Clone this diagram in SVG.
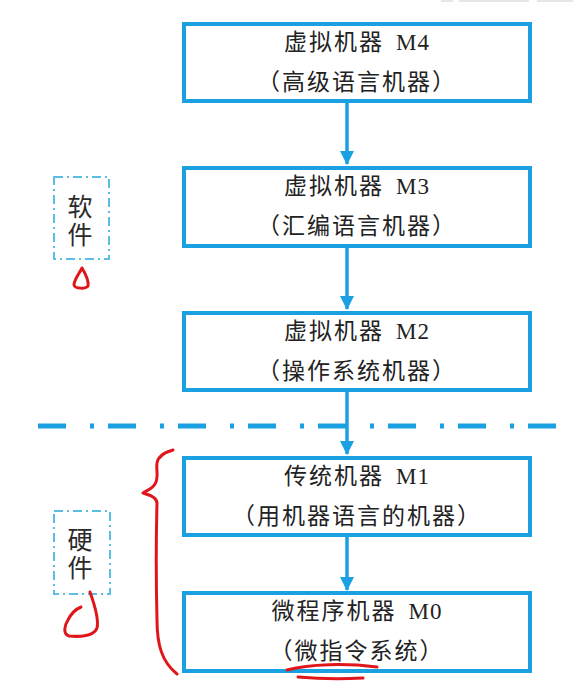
<svg xmlns="http://www.w3.org/2000/svg" width="573" height="691" viewBox="0 0 573 691">
<style>
.box{fill:#fff;stroke:#1ba1e2;stroke-width:4}
.t{font-family:"Noto Sans CJK SC","Noto Sans CJK JP",sans-serif;font-size:23px;fill:#222;text-anchor:middle;letter-spacing:2px}
.lat{font-family:"Liberation Serif",serif;letter-spacing:1px}
.side{font-family:"Noto Sans CJK SC",sans-serif;font-size:25px;fill:#2a2a2a;text-anchor:middle;writing-mode:tb;letter-spacing:3px}
.sbox{fill:none;stroke:#5bbde6;stroke-width:2;stroke-dasharray:9 4 2 4}
.conn{stroke:#1ba1e2;stroke-width:3.5;fill:none}
.red{stroke:#e0161b;stroke-width:3;fill:none;stroke-linecap:round;stroke-linejoin:round}
</style>
<defs>
<marker id="ah" markerUnits="userSpaceOnUse" markerWidth="14" markerHeight="14" viewBox="0 0 14 14" refX="13" refY="7" orient="auto">
<path d="M0,0 L14,7 L0,14 Z" fill="#1ba1e2"/>
</marker>
</defs>
<rect width="573" height="691" fill="#fff"/>
<g id="topbar" fill="#e6e6e6">
<rect x="441" y="0" width="12" height="2"/>
<rect x="459" y="0" width="70" height="2"/>
<rect x="537" y="0" width="36" height="2"/>
</g>
<g id="divider">
<line x1="38" y1="426" x2="573" y2="426" stroke="#1ba1e2" stroke-width="5" stroke-dasharray="28 24 4 14"/>
</g>
<g id="connectors">
<line class="conn" x1="347" y1="102" x2="347" y2="164" marker-end="url(#ah)"/>
<line class="conn" x1="347" y1="248" x2="347" y2="309" marker-end="url(#ah)"/>
<line class="conn" x1="347" y1="392" x2="347" y2="454" marker-end="url(#ah)"/>
<line class="conn" x1="347" y1="537" x2="347" y2="590" marker-end="url(#ah)"/>
</g>
<g id="m4">
<rect class="box" x="184" y="24" width="346" height="77"/>
<text class="t" x="357" y="50">虚拟机器<tspan class="lat" dx="12">M4</tspan></text>
<text class="t" x="357" y="90">（高级语言机器）</text>
</g>
<g id="m3">
<rect class="box" x="184" y="168" width="346" height="78"/>
<text class="t" x="357" y="194">虚拟机器<tspan class="lat" dx="12">M3</tspan></text>
<text class="t" x="357" y="234">（汇编语言机器）</text>
</g>
<g id="m2">
<rect class="box" x="184" y="313" width="346" height="77"/>
<text class="t" x="357" y="339">虚拟机器<tspan class="lat" dx="12">M2</tspan></text>
<text class="t" x="357" y="379">（操作系统机器）</text>
</g>
<g id="m1">
<rect class="box" x="184" y="458" width="346" height="77"/>
<text class="t" x="357" y="484">传统机器<tspan class="lat" dx="12">M1</tspan></text>
<text class="t" x="357" y="524">（用机器语言的机器）</text>
</g>
<g id="m0">
<rect class="box" x="184" y="593" width="346" height="78"/>
<text class="t" x="357" y="619">微程序机器<tspan class="lat" dx="12">M0</tspan></text>
<text class="t" x="357" y="659">（微指令系统）</text>
</g>
<g id="software">
<rect class="sbox" x="54" y="177" width="55" height="82"/>
<text class="side" x="80" y="222">软件</text>
</g>
<g id="hardware">
<rect class="sbox" x="54" y="511" width="56" height="83"/>
<text class="side" x="80" y="555">硬件</text>
</g>
<g id="annotations">
<path class="red" d="M82,268 C79,274 74,280 74,285 C75,289 86,289 88,286 C89,281 85,273 82,268"/>
<path class="red" d="M90,592 C95,606 99,620 97,628 C94,636 80,637 69,636 C63,634 64,626 68,620 C71,614 76,609 81,607"/>
<path class="red" d="M173,450 C166,452 158,456 157,463 C156,470 159,478 155,484 C152,489 146,491 143,493 C149,495 157,497 157,503 C156,540 156,580 157,620 C157,645 162,662 177,674"/>
<path class="red" d="M287,670 C310,664 345,663 377,667"/>
<path class="red" d="M298,677 C320,679 345,679 363,678"/>
</g>
</svg>
